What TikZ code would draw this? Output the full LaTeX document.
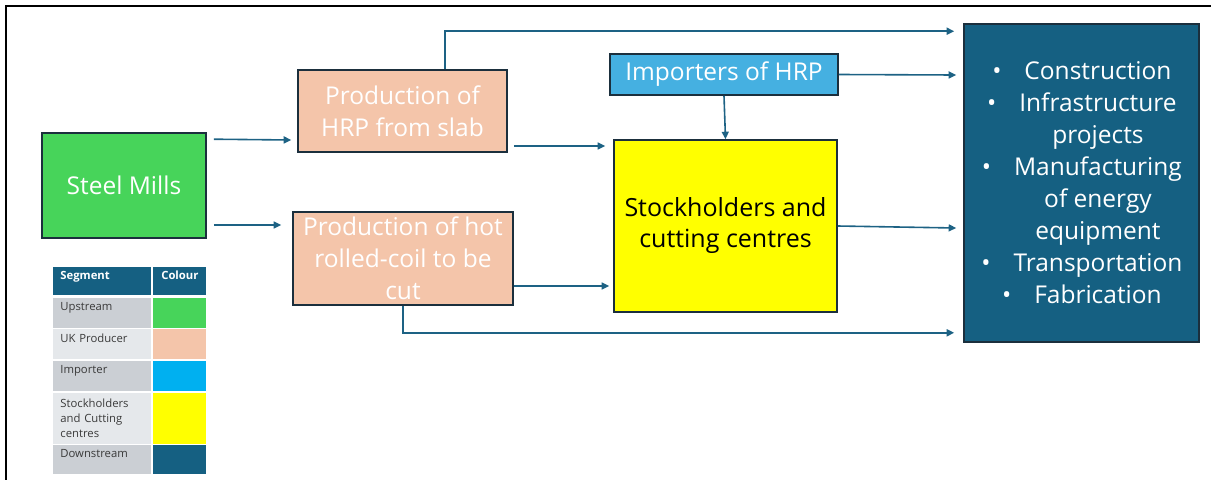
\documentclass[tikz,border=0pt]{standalone}
\usepackage{fontspec}
\setmainfont{Open Sans}
\usetikzlibrary{arrows.meta,calc}

\definecolor{upgreen}{HTML}{47D45A}
\definecolor{ukpeach}{HTML}{F4C5AA}
\definecolor{impblue}{HTML}{45B0E1}
\definecolor{legblue}{HTML}{00B0F0}
\definecolor{stockyellow}{HTML}{FFFF00}
\definecolor{downteal}{HTML}{156082}
\definecolor{boxline}{HTML}{1B2F3D}
\definecolor{flowline}{HTML}{1D6284}
\definecolor{celldark}{HTML}{CBCFD4}
\definecolor{celllight}{HTML}{E5E8EB}
\definecolor{celltext}{HTML}{3A3A3A}

\begin{document}
\begin{tikzpicture}[x=1pt, y=-1pt, thick]
\tikzstyle{boxr}=[rectangle, draw=boxline, line width=1.6pt, inner sep=2pt, align=center, text=white, font=\fontsize{24.5}{32}\selectfont]
\tikzstyle{cellr}=[rectangle, anchor=north west, inner xsep=7pt, inner ysep=0pt, text width=84pt, align=left, text=celltext, font=\fontsize{11.3}{15}\selectfont]
\tikzstyle{cellone}=[cellr, text depth=12pt]
\tikzstyle{cellc}=[rectangle, anchor=north west, inner sep=0pt, minimum width=53pt]
\tikzstyle{drawstyle}=[line width=1.6pt, draw=flowline, -{Triangle[length=7.5pt,width=7pt]}]

\useasboundingbox (0,0) rectangle (1211,480);
\draw[line width=2pt] (1211,6) -- (6,6) -- (6,480);

\node[boxr, fill=upgreen, minimum width=164pt, minimum height=105pt] (mills) at (124,185.5) {Steel Mills};
\node[boxr, fill=ukpeach, minimum width=209pt, minimum height=82pt] (slab) at (402.5,111) {Production of\\HRP from slab};
\node[boxr, fill=ukpeach, minimum width=220pt, minimum height=93pt] (coil) at (403,258.5) {Production of hot\\rolled-coil to be\\cut};
\node[boxr, fill=impblue, minimum width=228pt, minimum height=41pt] (imp) at (724,74.5) {Importers of HRP};
\node[boxr, fill=stockyellow, text=black, minimum width=223pt, minimum height=172pt, font=\fontsize{25}{31}\selectfont] (stock) at (725.5,226) {Stockholders and\\cutting centres};
\node[boxr, fill=downteal, minimum width=235pt, minimum height=318pt] (down) at (1081.5,183) {%
\hspace*{33pt}\llap{\textbullet\hspace{23pt}}Construction\\
\hspace*{33pt}\llap{\textbullet\hspace{23pt}}Infrastructure\\
\hspace*{33pt}projects\\
\hspace*{33pt}\llap{\textbullet\hspace{23pt}}Manufacturing\\
\hspace*{33pt}of energy\\
\hspace*{33pt}equipment\\
\hspace*{33pt}\llap{\textbullet\hspace{23pt}}Transportation\\
\hspace*{33pt}\llap{\textbullet\hspace{23pt}}Fabrication};

\draw[drawstyle] ($(mills.north east)+(7,7)$) -- ($(slab.west)+(-6,29)$);
\draw[drawstyle] ($(mills.east)+(7,39.5)$) -- ($(coil.west)+(-11,-33.5)$);
\draw[drawstyle] ($(slab.east)+(6,35)$) -- ($(stock.west)+(-8,-80)$);
\draw[drawstyle] ($(slab.north)+(42.5,0)$) |- ($(down.north west)+(-9,8)$);
\draw[drawstyle] (imp.east) -- ($(down.west)+(-7,-108)$);
\draw[drawstyle] (imp.south) -- (stock.north);
\draw[drawstyle] ($(coil.east)+(0,27.5)$) -- ($(stock.west)+(-4,60)$);
\draw[drawstyle] (coil.south) |- ($(down.south west)+(-9,-10)$);
\draw[drawstyle] (stock.east) -- ($(down.west)+(-7,45)$);

% legend
\node[cellone, fill=downteal, text=white, minimum height=28.5pt, font=\fontsize{11.3}{15}\bfseries] (segH) at (53,266.5) {Segment};
\node[cellc, fill=downteal, text=white, minimum height=28.5pt, text depth=12pt, font=\fontsize{11.3}{15}\bfseries] (colH) at (153,266.5) {Colour};
\node[cellone, fill=celldark, minimum height=29.6pt] (segA) at (53,297.7) {Upstream};
\node[cellc, fill=upgreen, minimum height=29.6pt] (colA) at (153,297.7) {};
\node[cellone, fill=celllight, minimum height=30pt] (segB) at (53,329) {UK Producer};
\node[cellc, fill=ukpeach, minimum height=30pt] (colB) at (153,329) {};
\node[cellone, fill=celldark, minimum height=30.4pt] (segC) at (53,360.3) {Importer};
\node[cellc, fill=legblue, minimum height=30.4pt] (colC) at (153,360.3) {};
\node[cellr, fill=celllight, minimum height=51pt] (segD) at (53,392.3) {Stockholders\\and Cutting\\centres};
\node[cellc, fill=stockyellow, minimum height=51pt] (colD) at (153,392.3) {};
\node[cellone, fill=celldark, minimum height=28.6pt] (segE) at (53,444.7) {Downstream};
\node[cellc, fill=downteal, minimum height=28.6pt] (colE) at (153,444.7) {};
\end{tikzpicture}
\end{document}
